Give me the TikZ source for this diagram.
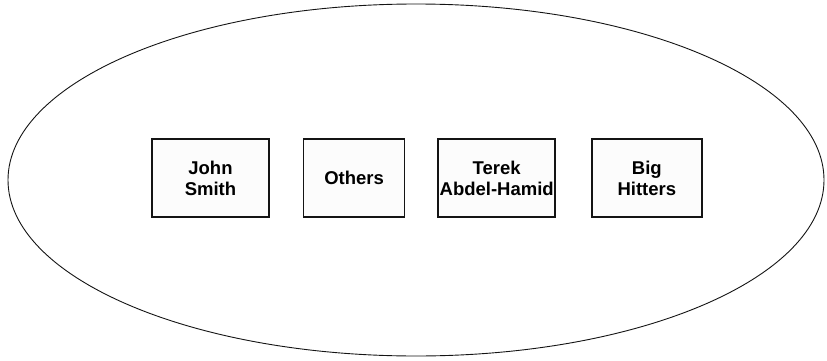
\documentclass[tikz,border=0pt]{standalone}
\usepackage{fontspec}
\setmainfont{Liberation Sans}
\usepackage{tikz}
\usetikzlibrary{positioning}
\usepackage{xcolor}
\definecolor{cLine}{RGB}{20,20,20}
\definecolor{cBox}{RGB}{252,252,252}
\tikzset{
  ringline/.style={draw=cLine,line width=0.9pt},
  personbox/.style={rectangle,draw=cLine,line width=1.6pt,fill=cBox,
                    align=center,minimum height=78pt,inner sep=1pt,
                    font=\fontsize{18.5}{21}\selectfont\bfseries},
}
\begin{document}
\begin{tikzpicture}
  \useasboundingbox (0,0) rectangle (827pt,360pt);
  \draw[ringline] (416pt,180pt) ellipse [x radius=408pt,y radius=176pt];
  \node[personbox,minimum width=117pt] (john) at (210.5pt,182pt) {John\\Smith};
  \node[personbox,minimum width=101pt,right=33pt of john] (others) {Others};
  \node[personbox,minimum width=117pt,right=32pt of others] (terek) {Terek\\Abdel-Hamid};
  \node[personbox,minimum width=110pt,right=35pt of terek] (hitters) {Big\\Hitters};
\end{tikzpicture}
\end{document}
